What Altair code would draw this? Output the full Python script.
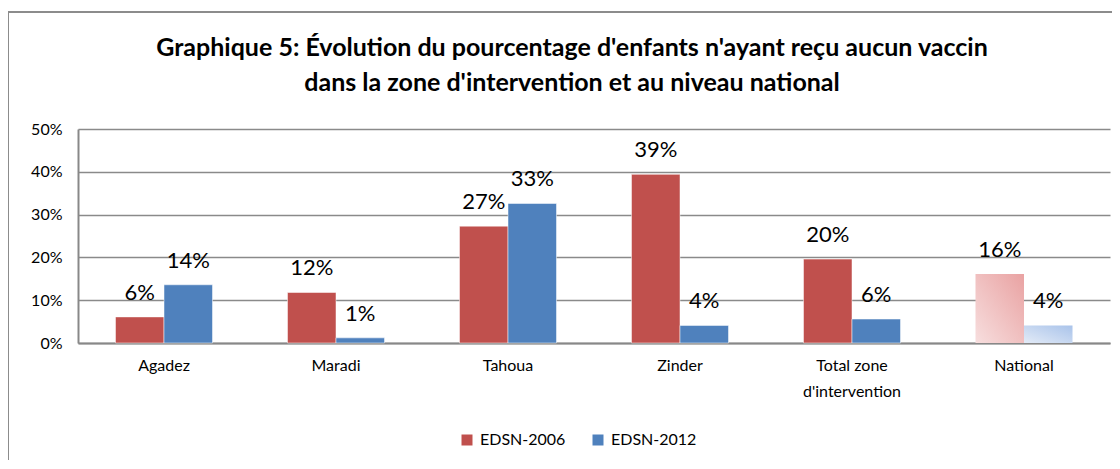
import altair as alt
import pandas as pd

categories = ["Agadez", "Maradi", "Tahoua", "Zinder", "Total zone d'intervention", "National"]
series_names = ["EDSN-2006", "EDSN-2012"]
v2006 = [6.1, 11.8, 27.3, 39.4, 19.6, 16.1]
v2012 = [13.6, 1.2, 32.6, 4.1, 5.6, 4.1]
y_ticks = [0, 10, 20, 30, 40, 50]
title_lines = ["Graphique 5: Évolution du pourcentage d'enfants n'ayant reçu aucun vaccin",
               "dans la zone d'intervention et au niveau national"]
colors = ["#C0504D", "#4F81BD"]

rows = []
for c, a, b in zip(categories, v2006, v2012):
    rows.append({"category": c, "series": series_names[0], "value": a})
    rows.append({"category": c, "series": series_names[1], "value": b})
df = pd.DataFrame(rows)

FONT = "Lato"
W, H = 1032, 214

x_enc = alt.X("category:N", sort=categories, title=None,
              scale=alt.Scale(paddingInner=0.436, paddingOuter=0.218),
              axis=alt.Axis(labelAngle=0, labelFontSize=16, labelFont=FONT, labelColor="#000",
                            labelPadding=14, ticks=False, domainColor="#888888", domainWidth=2,
                            labelLineHeight=26,
                            labelExpr="datum.value == \"Total zone d'intervention\" ? ['Total zone', \"d'intervention\"] : datum.value"))
y_enc = alt.Y("value:Q", title=None,
              scale=alt.Scale(domain=[0, 50], nice=False),
              axis=alt.Axis(values=y_ticks, labelExpr="datum.value + '%'", labelFontSize=16,
                            labelFont=FONT, labelColor="#000", labelPadding=16, ticks=False,
                            domainColor="#888888", domainWidth=2, gridColor="#8a8a8a",
                            gridWidth=1.4))
xoff = alt.XOffset("series:N", sort=series_names, scale=alt.Scale(paddingInner=0, paddingOuter=0))

base = alt.Chart(df)

bars = base.transform_filter("datum.category != 'National'").mark_bar(stroke="white", strokeWidth=0.5).encode(
    x=x_enc, y=y_enc, xOffset=xoff,
    color=alt.Color("series:N", sort=series_names,
                    scale=alt.Scale(domain=series_names, range=colors),
                    legend=alt.Legend(title=None, orient="none", direction="horizontal",
                                      legendX=381, legendY=303, symbolType="square",
                                      symbolSize=121, symbolStrokeWidth=0, labelFontSize=16,
                                      labelFont=FONT, labelColor="#000", labelOffset=5,
                                      columnPadding=24)),
)

grad_red = alt.Gradient(gradient="linear", x1=0, y1=1, x2=1, y2=0,
                        stops=[alt.GradientStop(offset=0, color="#F7DEDE"),
                               alt.GradientStop(offset=1, color="#E9A2A2")])
grad_blue = alt.Gradient(gradient="linear", x1=0, y1=1, x2=1, y2=0,
                         stops=[alt.GradientStop(offset=0, color="#E3EBF7"),
                                alt.GradientStop(offset=1, color="#A9C3EA")])

nat_red = base.transform_filter(
    f"datum.category == 'National' && datum.series == '{series_names[0]}'"
).mark_bar(color=grad_red).encode(x=x_enc, y=y_enc, xOffset=xoff)
nat_blue = base.transform_filter(
    f"datum.category == 'National' && datum.series == '{series_names[1]}'"
).mark_bar(color=grad_blue).encode(x=x_enc, y=y_enc, xOffset=xoff)

labels = base.mark_text(dy=-24, fontSize=22, font=FONT, color="#000", baseline="middle").encode(
    x=x_enc, y=y_enc, xOffset=xoff,
    text=alt.Text("label:N"),
).transform_calculate(label="round(datum.value) + '%'")

one_row = "datum.category == 'Agadez' && datum.series == 'EDSN-2006'"

frame = base.mark_rect(fill=None, stroke="#8c8c8c", strokeWidth=2, clip=False).encode(
    x=alt.value(-70), x2=alt.value(1060), y=alt.value(-117), y2=alt.value(360)
).transform_filter(one_row)

title1 = base.mark_text(font=FONT, fontSize=25, fontWeight="bold", color="#000",
                        align="center", baseline="middle").encode(
    x=alt.value(W / 2 - 22), y=alt.value(-81), text=alt.value(title_lines[0])
).transform_filter(one_row)
title2 = base.mark_text(font=FONT, fontSize=25, fontWeight="bold", color="#000",
                        align="center", baseline="middle").encode(
    x=alt.value(W / 2 - 22), y=alt.value(-46), text=alt.value(title_lines[1])
).transform_filter(one_row)

chart = alt.layer(frame, bars, nat_red, nat_blue, labels, title1, title2).properties(
    width=W, height=H,
    autosize=alt.AutoSizeParams(type="none"),
    padding={"left": 70, "top": 121, "right": 2, "bottom": 117},
).configure_view(stroke=None).configure_axis(grid=False).configure_axisY(grid=True)

chart.save("out.html", embed_options={"renderer": "svg", "actions": False})
